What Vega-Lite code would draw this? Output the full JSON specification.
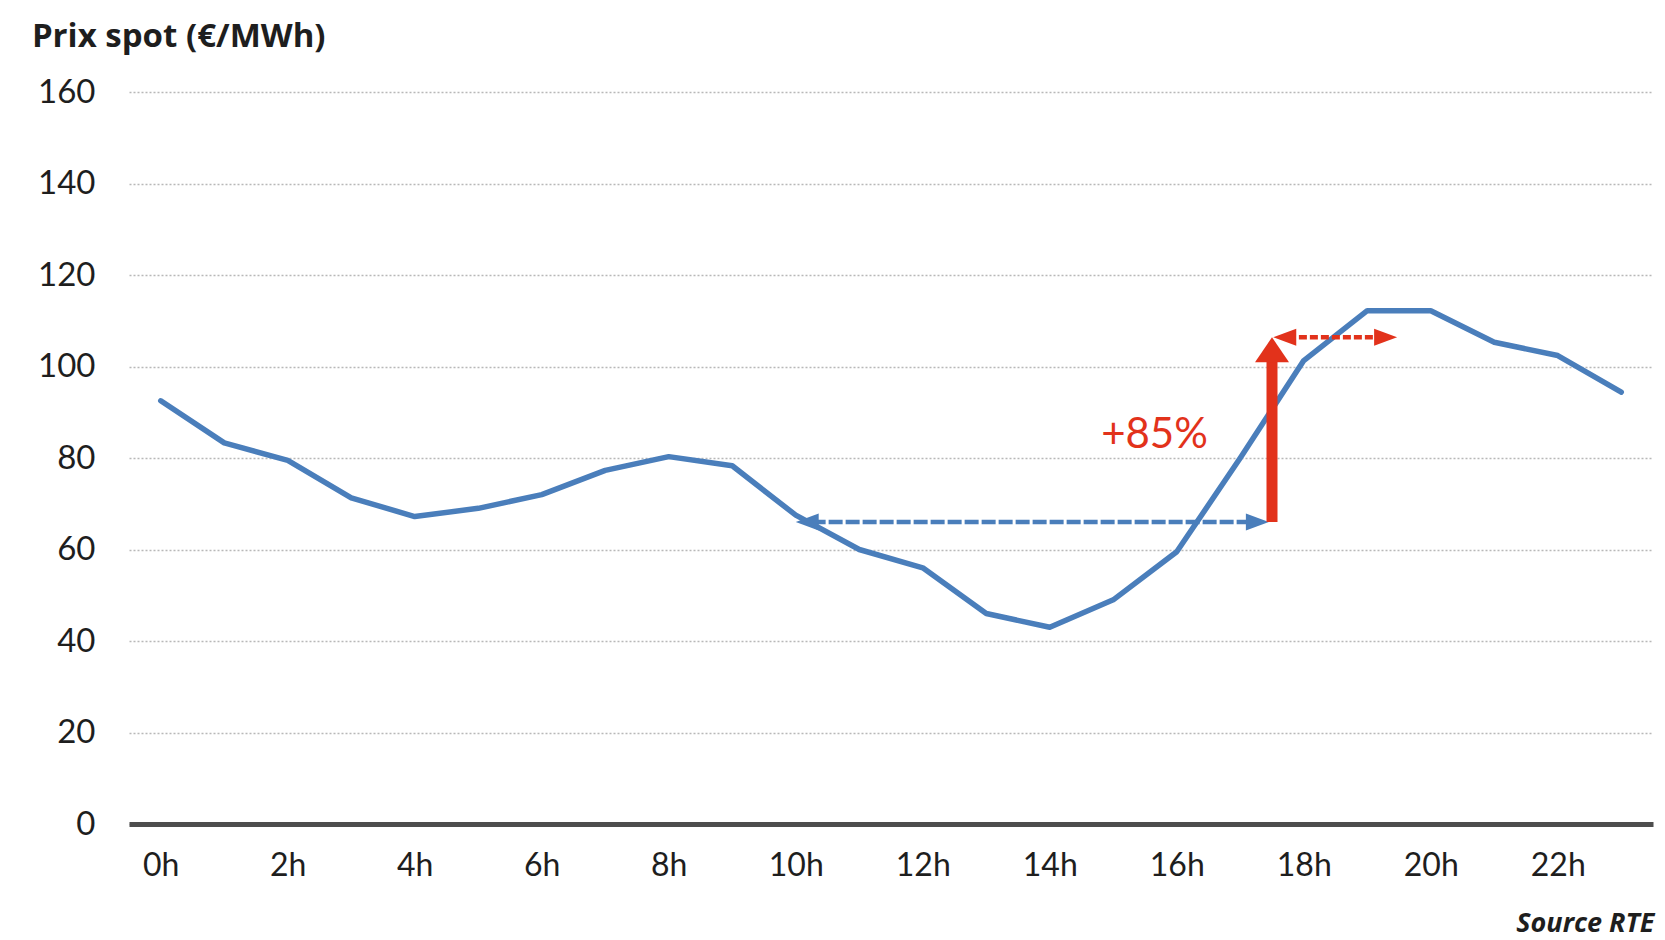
{
  "$schema": "https://vega.github.io/schema/vega-lite/v6.json",
  "width": 1524,
  "height": 732,
  "autosize": {"type": "none"},
  "padding": {"left": 129, "top": 92, "right": 12, "bottom": 116},
  "background": "white",
  "config": {"view": {"stroke": null}, "font": "Lato"},
  "datasets": {
    "prices": [
      {"h": 0, "p": 92.5}, {"h": 1, "p": 83.3}, {"h": 2, "p": 79.5}, {"h": 3, "p": 71.3},
      {"h": 4, "p": 67.2}, {"h": 5, "p": 69}, {"h": 6, "p": 72}, {"h": 7, "p": 77.3},
      {"h": 8, "p": 80.3}, {"h": 9, "p": 78.3}, {"h": 10, "p": 67.5}, {"h": 11, "p": 60},
      {"h": 12, "p": 56}, {"h": 13, "p": 46}, {"h": 14, "p": 43}, {"h": 15, "p": 49},
      {"h": 16, "p": 59.5}, {"h": 17, "p": 80}, {"h": 18, "p": 101.3}, {"h": 19, "p": 112.2},
      {"h": 20, "p": 112.2}, {"h": 21, "p": 105.3}, {"h": 22, "p": 102.4}, {"h": 23, "p": 94.4}
    ],
    "blueRule": [{"h": 10.25, "h2": 17.2, "p": 66}],
    "blueHeads": [
      {"h": 10.0, "p": 66, "dir": "left"},
      {"h": 17.45, "p": 66, "dir": "right"}
    ],
    "redShaft": [{"h": 17.5, "p": 66, "p2": 101.5}],
    "redHead": [{"h": 17.5, "p": 106.4}],
    "redRule": [{"h": 17.75, "h2": 19.2, "p": 106.4}],
    "redHeads": [
      {"h": 17.52, "p": 106.4, "dir": "left"},
      {"h": 19.47, "p": 106.4, "dir": "right"}
    ],
    "label": [{"h": 15.65, "p": 85, "t": "+85%"}]
  },
  "encoding": {
    "x": {
      "field": "h", "type": "quantitative",
      "scale": {"domain": [-0.5, 23.5], "nice": false, "zero": false},
      "axis": {
        "values": [0, 2, 4, 6, 8, 10, 12, 14, 16, 18, 20, 22],
        "labelExpr": "datum.value + 'h'",
        "grid": false, "ticks": false, "tickSize": 0,
        "domain": true, "domainColor": "#4d4d4d", "domainWidth": 5,
        "labelFont": "Lato", "labelFontSize": 32, "labelColor": "#1e1e1e",
        "labelPadding": 26, "labelBaseline": "top", "labelFlush": false,
        "title": "Source RTE",
        "titleFont": "Open Sans", "titleFontSize": 27, "titleFontWeight": "bold", "titleFontStyle": "italic",
        "titleColor": "#1e1e1e", "titleAnchor": null, "titleAlign": "right", "titleBaseline": "alphabetic",
        "titleX": 1525, "titleY": 107
      }
    },
    "y": {
      "field": "p", "type": "quantitative",
      "scale": {"domain": [0, 160], "nice": false, "zero": true},
      "axis": {
        "values": [0, 20, 40, 60, 80, 100, 120, 140, 160],
        "domain": false, "ticks": false, "tickSize": 0,
        "grid": true, "gridColor": "#b8b8b8", "gridDash": [2, 2], "gridWidth": 1.5,
        "labelFont": "Lato", "labelFontSize": 33, "labelColor": "#1e1e1e",
        "labelPadding": 34, "labelBaseline": "middle",
        "title": "Prix spot (€/MWh)",
        "titleFont": "Open Sans", "titleFontSize": 33, "titleFontWeight": "bold", "titleColor": "#1e1e1e",
        "titleAngle": 0, "titleAnchor": null, "titleAlign": "left", "titleBaseline": "alphabetic",
        "titleX": -97.6, "titleY": -46
      }
    }
  },
  "layer": [
    {
      "data": {"name": "prices"},
      "mark": {"type": "line", "color": "#4a7ebb", "strokeWidth": 5.5, "strokeJoin": "round", "strokeCap": "round"}
    },
    {
      "data": {"name": "blueRule"},
      "mark": {"type": "rule", "color": "#4a7ebb", "strokeWidth": 4.5, "strokeDash": [14, 3]},
      "encoding": {"x2": {"field": "h2"}}
    },
    {
      "data": {"name": "blueHeads"},
      "mark": {"type": "point", "filled": true, "color": "#4a7ebb", "size": 1156, "opacity": 1},
      "encoding": {
        "shape": {
          "field": "dir", "type": "nominal", "legend": null,
          "scale": {"domain": ["left", "right"], "range": ["M0,0L1.35,-0.5L1.35,0.5Z", "M0,0L-1.35,-0.5L-1.35,0.5Z"]}
        }
      }
    },
    {
      "data": {"name": "redShaft"},
      "mark": {"type": "rule", "color": "#e2321b", "strokeWidth": 11},
      "encoding": {"y2": {"field": "p2"}}
    },
    {
      "data": {"name": "redHead"},
      "mark": {"type": "point", "filled": true, "color": "#e2321b", "size": 1156, "opacity": 1, "shape": "M0,0L-1,1.47L1,1.47Z"}
    },
    {
      "data": {"name": "redRule"},
      "mark": {"type": "rule", "color": "#e2321b", "strokeWidth": 4.5, "strokeDash": [8, 3]},
      "encoding": {"x2": {"field": "h2"}}
    },
    {
      "data": {"name": "redHeads"},
      "mark": {"type": "point", "filled": true, "color": "#e2321b", "size": 1156, "opacity": 1},
      "encoding": {
        "shape": {
          "field": "dir", "type": "nominal", "legend": null,
          "scale": {"domain": ["left", "right"], "range": ["M0,0L1.35,-0.5L1.35,0.5Z", "M0,0L-1.35,-0.5L-1.35,0.5Z"]}
        }
      }
    },
    {
      "data": {"name": "label"},
      "mark": {"type": "text", "color": "#e2321b", "font": "Lato", "fontSize": 42, "align": "center", "baseline": "middle"},
      "encoding": {"text": {"field": "t"}}
    }
  ]
}
